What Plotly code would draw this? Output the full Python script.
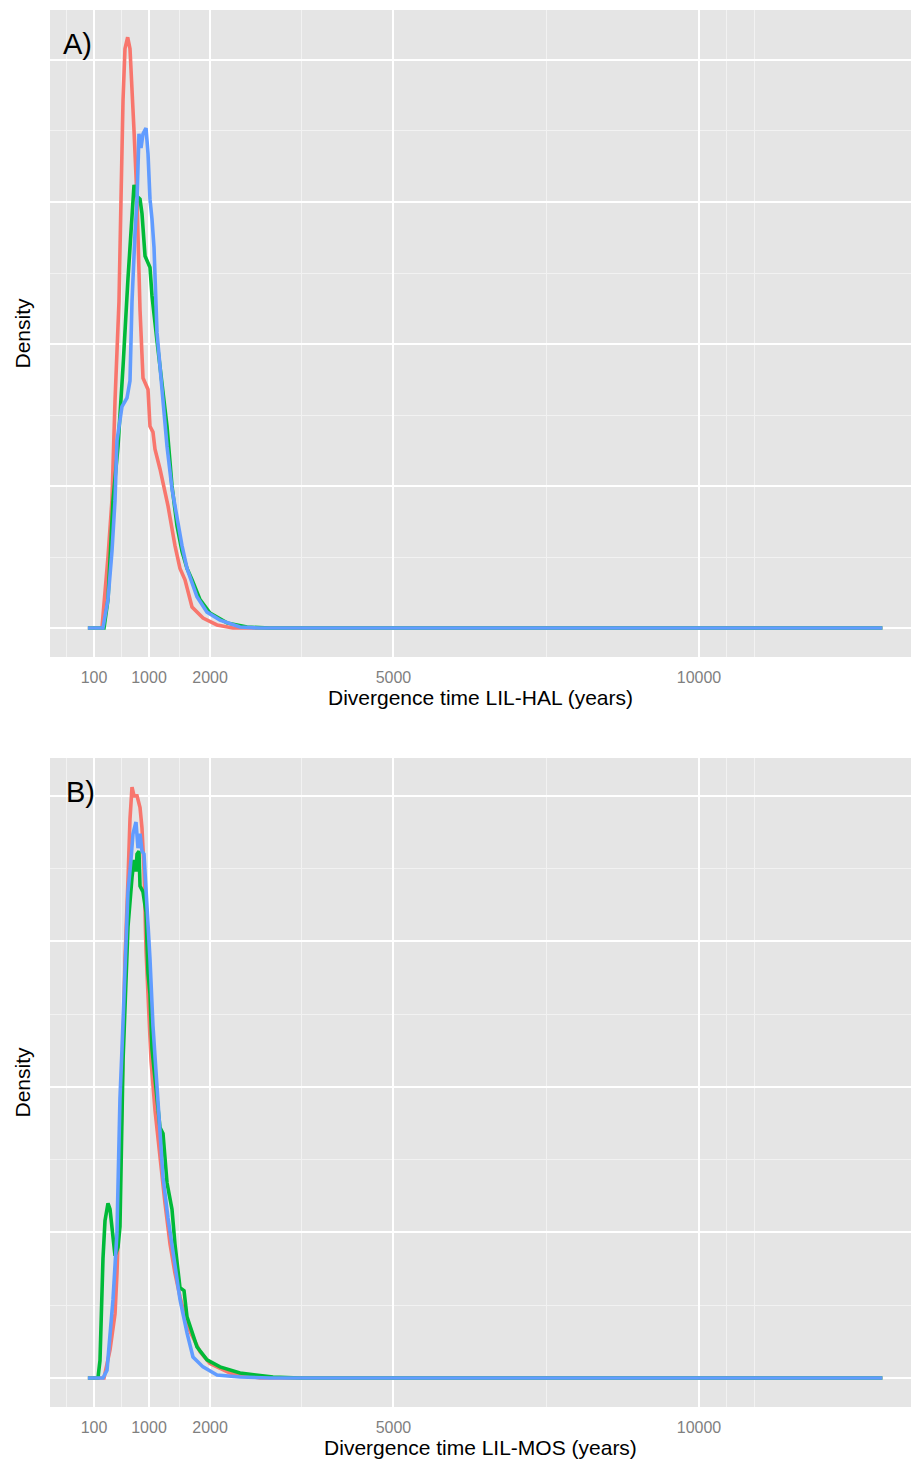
import plotly.graph_objects as go

# ---------------- data (years, density) ----------------
# Panel A: LIL-HAL
a_red_x = [0, 230, 329, 394, 444, 509, 542, 575, 607, 651, 689, 722, 755, 804, 836, 853, 902, 984, 1016, 1065, 1098, 1180, 1311, 1425, 1507, 1589, 1704, 1884, 2113, 2375, 13000]
a_red_y = [0, 0, 0.00025, 0.00045, 0.00080, 0.00115, 0.00151, 0.00186, 0.00204, 0.00208, 0.00204, 0.00186, 0.00175, 0.00151, 0.00115, 0.00112, 0.00088, 0.00084, 0.00071, 0.00069, 0.00063, 0.00056, 0.00043, 0.00029, 0.00021, 0.00017, 0.000074, 0.000035, 0.000011, 0, 0]

a_green_x = [0, 264, 329, 362, 411, 493, 525, 575, 656, 705, 738, 755, 804, 853, 885, 935, 1016, 1049, 1131, 1213, 1295, 1376, 1458, 1540, 1622, 1704, 1835, 1998, 2276, 2604, 2980, 13000]
a_green_y = [0, 0, 0.0001, 0.00027, 0.00045, 0.00064, 0.00074, 0.00092, 0.00123, 0.00140, 0.00151, 0.00156, 0.00152, 0.00151, 0.00146, 0.00131, 0.00127, 0.00117, 0.00101, 0.00085, 0.00071, 0.00050, 0.00036, 0.00027, 0.00021, 0.00017, 0.0001, 0.000053, 0.000018, 0.0000035, 0, 0]

a_blue_x = [0, 247, 329, 394, 444, 476, 558, 640, 689, 722, 771, 804, 836, 869, 902, 951, 984, 1016, 1049, 1082, 1131, 1180, 1229, 1295, 1376, 1458, 1540, 1622, 1785, 1949, 2162, 2489, 2816, 13000]
a_blue_y = [0, 0, 0.0001, 0.00027, 0.00045, 0.00066, 0.00078, 0.00081, 0.00087, 0.00115, 0.00139, 0.00151, 0.00174, 0.00169, 0.00174, 0.00176, 0.00167, 0.00151, 0.00144, 0.00134, 0.00104, 0.00091, 0.00080, 0.00064, 0.00049, 0.00038, 0.00029, 0.00021, 0.00011, 0.000056, 0.000028, 0.0000035, 0, 0]

# Panel B: LIL-MOS
b_red_x = [0, 264, 362, 444, 476, 525, 575, 607, 656, 689, 722, 755, 804, 853, 885, 918, 951, 984, 1033, 1098, 1180, 1262, 1344, 1425, 1507, 1589, 1671, 1835, 1998, 2325, 2816, 13000]
b_red_y = [0, 0, 0.000096, 0.00022, 0.00036, 0.00068, 0.00113, 0.00144, 0.00171, 0.00192, 0.00203, 0.00200, 0.00200, 0.00196, 0.00189, 0.00175, 0.00147, 0.00130, 0.00109, 0.00092, 0.00075, 0.00060, 0.00046, 0.00036, 0.00028, 0.00021, 0.00016, 0.00009, 0.00005, 0.000017, 0, 0]

b_green_x = [0, 165, 198, 231, 247, 280, 329, 362, 394, 444, 493, 525, 575, 656, 722, 755, 787, 804, 836, 853, 902, 951, 984, 1016, 1049, 1098, 1180, 1229, 1295, 1376, 1425, 1507, 1573, 1622, 1704, 1785, 1949, 2162, 2489, 3029, 3471, 13000]
b_green_y = [0, 0, 0.00006, 0.00033, 0.00041, 0.00054, 0.00060, 0.00058, 0.00052, 0.00042, 0.00045, 0.00052, 0.00109, 0.00155, 0.00172, 0.00178, 0.00174, 0.00180, 0.00181, 0.00169, 0.00167, 0.00160, 0.00139, 0.00132, 0.00113, 0.00102, 0.00086, 0.00084, 0.00067, 0.00058, 0.00046, 0.00031, 0.00030, 0.00021, 0.000155, 0.000107, 0.000062, 0.000038, 0.000017, 0.0000034, 0, 0]

b_blue_x = [0, 247, 313, 362, 411, 476, 525, 558, 607, 656, 705, 738, 787, 820, 853, 885, 918, 967, 1016, 1065, 1147, 1229, 1311, 1393, 1507, 1622, 1720, 1884, 2113, 2489, 2980, 13000]
b_blue_y = [0, 0, 0.000027, 0.000155, 0.00027, 0.00050, 0.00096, 0.00113, 0.00144, 0.00167, 0.00178, 0.00187, 0.00191, 0.00182, 0.00187, 0.00181, 0.00180, 0.00163, 0.00144, 0.00121, 0.00096, 0.00069, 0.00055, 0.00044, 0.00027, 0.000155, 0.000072, 0.000038, 0.00001, 0.0000034, 0, 0]

x_tick_vals = [100, 1000, 2000, 5000, 10000]
x_tick_text = ["100", "1000", "2000", "5000", "10000"]
x_minor_vals = [-350, 550, 1500, 3500, 7500, 10450, 10900]
y_tick_vals = [0, 0.0005, 0.001, 0.0015, 0.002]
y_minor_vals = [0.00025, 0.00075, 0.00125, 0.00175]

x_titles = ["Divergence time LIL-HAL (years)", "Divergence time LIL-MOS (years)"]
panel_labels = ["A)", "B)"]

colors = {"red": "#F8766D", "green": "#00BA38", "blue": "#619CFF"}
FONT = "Liberation Sans, Arial, sans-serif"

W, H = 911, 1462
fig = go.Figure()

panels = [
    ([(a_red_x, a_red_y, "red"), (a_green_x, a_green_y, "green"), (a_blue_x, a_blue_y, "blue")], "x", "y"),
    ([(b_red_x, b_red_y, "red"), (b_green_x, b_green_y, "green"), (b_blue_x, b_blue_y, "blue")], "x2", "y2"),
]
for series, xa, ya in panels:
    for xs, ys, c in series:
        fig.add_trace(go.Scatter(x=xs, y=ys, mode="lines", xaxis=xa, yaxis=ya,
                                 line=dict(color=colors[c], width=3.6), showlegend=False,
                                 hoverinfo="skip"))

x_range = [-620, 13469]
# panel pixel boxes: (top, bottom)
boxes = [(10, 657), (758, 1407)]
y_ranges = [[-0.000102, 0.002176], [-0.0000997, 0.00213]]

def px_x(px):
    return px / W

def px_y(py):
    return (H - py) / H

def xaxis_cfg(title, anchor):
    return dict(
        domain=[px_x(50), 1], range=x_range, anchor=anchor,
        tickmode="array", tickvals=x_tick_vals, ticktext=x_tick_text,
        tickfont=dict(family=FONT, size=16, color="#7F7F7F"),
        showgrid=True, gridcolor="#FFFFFF", gridwidth=2, zeroline=False,
        showline=False, ticks="", ticklabelstandoff=9,
        minor=dict(tickmode="array", tickvals=x_minor_vals, showgrid=True,
                   gridcolor="#F2F2F2", gridwidth=1, ticks=""),
        title=dict(text=title, font=dict(family=FONT, size=21, color="#000000"), standoff=5),
    )

def yaxis_cfg(box, rng, anchor):
    top, bottom = box
    return dict(
        domain=[px_y(bottom), px_y(top)], range=rng, anchor=anchor,
        tickmode="array", tickvals=y_tick_vals, showticklabels=False,
        showgrid=True, gridcolor="#FFFFFF", gridwidth=2, zeroline=False,
        showline=False, ticks="",
        minor=dict(tickmode="array", tickvals=y_minor_vals, showgrid=True,
                   gridcolor="#F2F2F2", gridwidth=1, ticks=""),
    )

fig.update_layout(
    width=W, height=H,
    margin=dict(l=0, r=0, t=0, b=0),
    paper_bgcolor="#FFFFFF", plot_bgcolor="#E5E5E5",
    font=dict(family=FONT),
    xaxis=xaxis_cfg(x_titles[0], "y"),
    yaxis=yaxis_cfg(boxes[0], y_ranges[0], "x"),
    xaxis2=xaxis_cfg(x_titles[1], "y2"),
    yaxis2=yaxis_cfg(boxes[1], y_ranges[1], "x2"),
)

annotations = []
for (top, bottom), lab, lx in zip(boxes, panel_labels, [77, 80]):
    mid = (top + bottom) / 2
    annotations.append(dict(text="Density", x=px_x(22), y=px_y(mid), xref="paper", yref="paper",
                            showarrow=False, textangle=-90,
                            font=dict(family=FONT, size=21, color="#000000"),
                            xanchor="center", yanchor="middle"))
    annotations.append(dict(text=lab, x=px_x(lx), y=px_y(top + 34), xref="paper", yref="paper",
                            showarrow=False, font=dict(family=FONT, size=29, color="#000000"),
                            xanchor="center", yanchor="middle"))
fig.update_layout(annotations=annotations)

fig.write_html("out.html",
               config={"displayModeBar": False},
               post_script="document.body.style.margin='0';document.body.style.overflow='hidden';")
